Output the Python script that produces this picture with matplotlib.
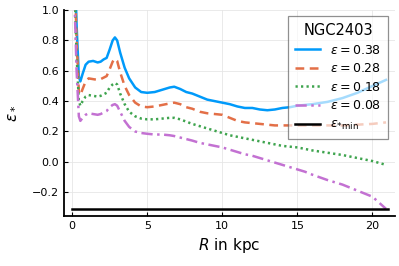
import matplotlib
matplotlib.use('Agg')
import matplotlib.pyplot as plt

# radius in kpc
R = [0.15, 0.3, 0.45, 0.55, 0.7, 0.9, 1.1, 1.4, 1.7, 1.9,
     2.1, 2.3, 2.5, 2.7, 2.85, 3.0, 3.2, 3.5, 3.8, 4.2,
     4.6, 5.0, 5.5, 6.0, 6.5, 6.8, 7.2, 7.6, 8.0, 8.5,
     9.0, 9.5, 10, 10.5, 11, 11.5, 12, 12.5, 13, 13.5,
     14, 14.5, 15, 15.5, 16, 17, 18, 19, 20, 20.9]

eps_038 = [1.4, 0.9, 0.56, 0.53, 0.58, 0.64, 0.66, 0.665, 0.655, 0.66,
           0.675, 0.685, 0.74, 0.80, 0.82, 0.80, 0.72, 0.62, 0.55, 0.49,
           0.46, 0.455, 0.46, 0.475, 0.49, 0.495, 0.48, 0.46, 0.45, 0.43,
           0.41, 0.40, 0.39, 0.38, 0.365, 0.355, 0.355, 0.345, 0.34, 0.345,
           0.355, 0.36, 0.37, 0.375, 0.38, 0.395, 0.42, 0.455, 0.50, 0.54]
eps_028 = [1.3, 0.8, 0.46, 0.44, 0.48, 0.53, 0.55, 0.545, 0.54, 0.545,
           0.555, 0.565, 0.61, 0.66, 0.68, 0.665, 0.59, 0.50, 0.44, 0.39,
           0.365, 0.36, 0.365, 0.375, 0.385, 0.39, 0.38, 0.36, 0.35, 0.33,
           0.32, 0.315, 0.31, 0.29, 0.27, 0.26, 0.255, 0.25, 0.245, 0.24,
           0.24, 0.24, 0.24, 0.24, 0.24, 0.24, 0.24, 0.245, 0.25, 0.26]
eps_018 = [1.2, 0.7, 0.40, 0.37, 0.40, 0.43, 0.44, 0.435, 0.43, 0.435,
           0.445, 0.455, 0.49, 0.51, 0.52, 0.51, 0.45, 0.38, 0.33, 0.30,
           0.285, 0.28, 0.28, 0.285, 0.29, 0.29, 0.28, 0.265, 0.25, 0.235,
           0.22, 0.205, 0.19, 0.175, 0.165, 0.155, 0.145, 0.135, 0.125, 0.115,
           0.105, 0.10, 0.095, 0.085, 0.075, 0.06, 0.045, 0.025, 0.005, -0.02]
eps_008 = [1.1, 0.6, 0.30, 0.27, 0.29, 0.31, 0.32, 0.315, 0.31, 0.315,
           0.325, 0.335, 0.36, 0.375, 0.38, 0.37, 0.33, 0.27, 0.23, 0.20,
           0.19, 0.185, 0.18, 0.18, 0.175, 0.17, 0.16, 0.15, 0.14, 0.125,
           0.115, 0.105, 0.095, 0.08, 0.065, 0.05, 0.04, 0.025, 0.01, -0.005,
           -0.02, -0.035, -0.05, -0.065, -0.085, -0.12, -0.15, -0.19, -0.23, -0.31]

eps_min = -0.31
R_min = [0, 21]

fig = plt.figure(figsize=(3.99, 2.66), dpi=100)
ax = fig.add_axes([0.160, 0.188, 0.830, 0.774])

ax.plot(R, eps_038, color='#009AFA', lw=1.8, ls='-', label=r'$\varepsilon = 0.38$')
ax.plot(R, eps_028, color='#E36F47', lw=1.8, ls=(0, (3.5, 2.2)), label=r'$\varepsilon = 0.28$')
ax.plot(R, eps_018, color='#3EA44E', lw=1.8, ls=(0, (0.9, 1.3)), label=r'$\varepsilon = 0.18$')
ax.plot(R, eps_008, color='#C371D2', lw=1.8, ls=(0, (4.5, 1.8, 1, 1.8)), label=r'$\varepsilon = 0.08$')
ax.plot(R_min, [eps_min, eps_min], color='black', lw=1.8, label=r'$\varepsilon_{*\mathrm{min}}$')

ax.set_xlim(-0.55, 21.5)
ax.set_ylim(-0.357, 1.0)
ax.set_xticks([0, 5, 10, 15, 20])
ax.set_yticks([-0.2, 0.0, 0.2, 0.4, 0.6, 0.8, 1.0])
ax.set_yticklabels(['\u22120.2', '0.0', '0.2', '0.4', '0.6', '0.8', '1.0'])

ax.grid(True, color='#e6e6e6', lw=0.6)
ax.set_axisbelow(True)
for s in ['top', 'right']:
    ax.spines[s].set_visible(False)
for s in ['left', 'bottom']:
    ax.spines[s].set_linewidth(1.3)
ax.tick_params(direction='in', length=3, labelsize=8, width=0.8)

ax.set_xlabel(r'$R$ in kpc', fontsize=11)
ax.set_ylabel(r'$\varepsilon_*$', fontsize=11, labelpad=10)

leg = ax.legend(title='NGC2403', loc='upper right', bbox_to_anchor=(0.979, 0.971),
                borderaxespad=0, fontsize=9, title_fontsize=10.5, fancybox=False,
                framealpha=0.65, edgecolor='#555555', handlelength=2.0,
                handletextpad=0.8, borderpad=0.55, labelspacing=0.45)
leg.get_frame().set_linewidth(0.9)

fig.savefig('out.png', dpi=100)
